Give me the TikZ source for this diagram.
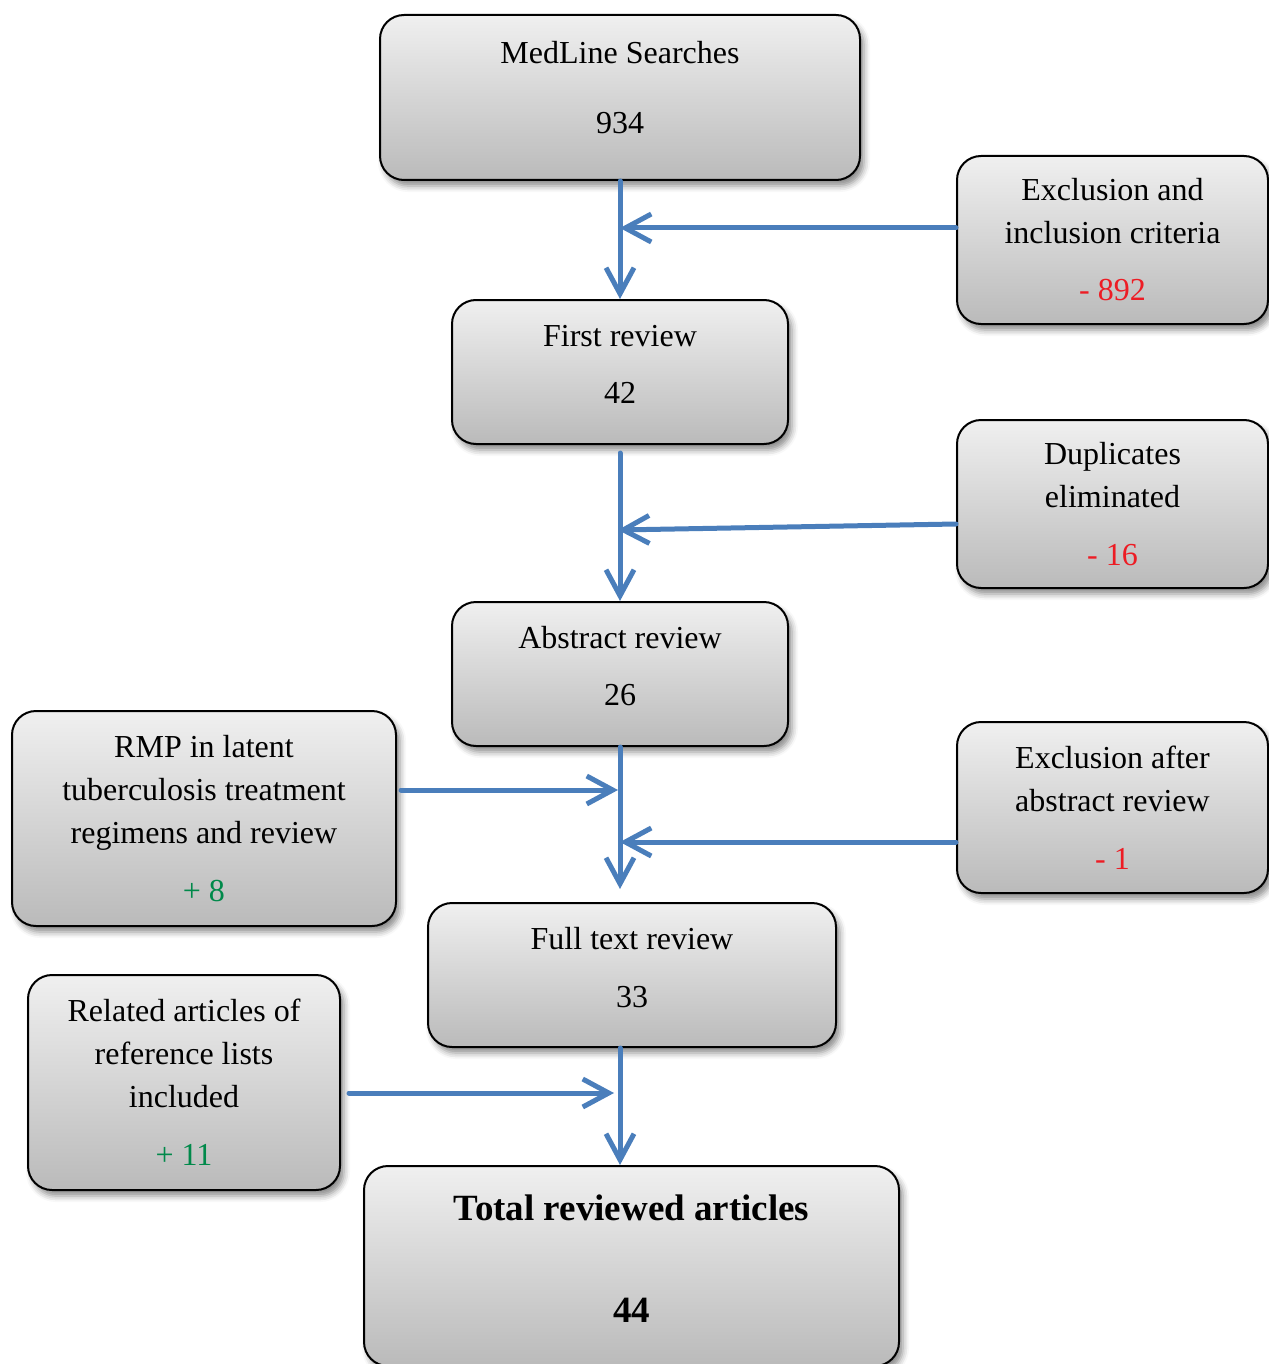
\documentclass[tikz,border=0pt]{standalone}
\usepackage{fontspec}
\setmainfont{Liberation Serif}
\usetikzlibrary{arrows.meta,shadows.blur}
\definecolor{flowblue}{HTML}{4A7EBB}
\definecolor{minusred}{HTML}{ED1C24}
\definecolor{plusgreen}{HTML}{00894A}
\begin{document}
\begin{tikzpicture}[x=0.5pt, y=-0.5pt, line join=round, line cap=round,
    box/.style={draw=black, line width=1pt, rounded corners=12pt, top color=black!6, bottom color=black!27,
        blur shadow={shadow xshift=2pt, shadow yshift=-3pt, shadow blur radius=3pt, shadow opacity=45},
        align=center, inner sep=0pt, font=\fontsize{16}{21.5}\selectfont},
    lift/.style={text depth=8pt},
    flow/.style={draw=flowblue, line width=2.5pt, -{Straight Barb[length=13pt, width=14pt]}},
    minus/.style={text=minusred}, plus/.style={text=plusgreen}]
\useasboundingbox (0,0) rectangle (1268,1364);
% main column
\node[box, minimum width=240pt, minimum height=82.5pt, text depth=10pt] (med) at (620,97.5)
    {MedLine Searches\\[13.5pt]934};
\node[box, lift, minimum width=168pt, minimum height=72pt] (first) at (620,372)
    {First review\\[7pt]42};
\node[box, lift, minimum width=168pt, minimum height=72pt] (abs) at (620,674)
    {Abstract review\\[7pt]26};
\node[box, lift, minimum width=204pt, minimum height=72pt] (full) at (632,975)
    {Full text review\\[7.5pt]33};
\node[box, text depth=7pt, minimum width=267.5pt, minimum height=100pt, font=\fontsize{18.5}{22}\bfseries] (total) at (631.5,1266)
    {Total reviewed articles\\[29pt]44};
% side boxes
\node[box, minimum width=155.5pt, minimum height=84pt] (excl) at (1112.5,240)
    {Exclusion and\\inclusion criteria\\[7pt]\textcolor{minusred}{- 892}};
\node[box, minimum width=155.5pt, minimum height=84pt] (dup) at (1112.5,504)
    {Duplicates\\eliminated\\[7.5pt]\textcolor{minusred}{- 16}};
\node[box, minimum width=155.5pt, minimum height=85.5pt] (exab) at (1112.5,807.5)
    {Exclusion after\\abstract review\\[7.5pt]\textcolor{minusred}{- 1}};
\node[box, minimum width=192pt, minimum height=107.5pt] (rmp) at (204,818.5)
    {RMP in latent\\tuberculosis treatment\\regimens and review\\[7.5pt]\textcolor{plusgreen}{+ 8}};
\node[box, minimum width=156pt, minimum height=107.5pt] (rel) at (184,1082.5)
    {Related articles of\\reference lists\\included\\[7.5pt]\textcolor{plusgreen}{+ 11}};
% junctions on the main line
\coordinate (j1) at (620,228);
\coordinate (j2) at (618,530);
\coordinate (j3) at (618,790);
\coordinate (j4) at (620,842);
\coordinate (j5) at (614,1093);
% connectors
\draw[flow] (med.south) -- (first.north);
\draw[flow] ([yshift=-4pt]first.south) -- (abs.north);
\draw[flow] (abs.south) -- ([yshift=6.5pt]abs.south |- full.north);
\draw[flow] (abs.south |- full.south) -- (abs.south |- total.north);
\draw[flow] (excl.west |- j1) -- (j1);
\draw[flow] ([yshift=-10pt]dup.west) -- (j2);
\draw[flow] ([xshift=2pt]rmp.east |- j3) -- (j3);
\draw[flow] (exab.west |- j4) -- (j4);
\draw[flow] ([xshift=4pt]rel.east |- j5) -- (j5);
\end{tikzpicture}
\end{document}
